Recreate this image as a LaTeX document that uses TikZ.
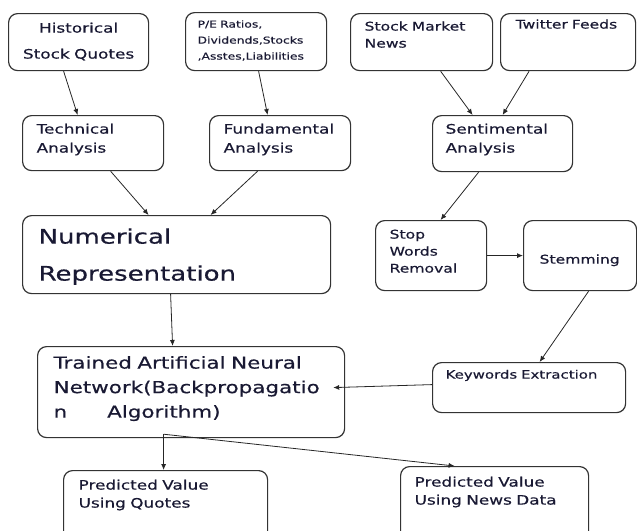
\documentclass[tikz,border=0pt]{standalone}
\usepackage{fontspec}
\setmainfont{DejaVu Sans}[FakeStretch=1.3,FakeBold=0.5]
\usetikzlibrary{arrows.meta}
\definecolor{inkc}{rgb}{0.1,0.1,0.2}
\definecolor{linec}{rgb}{0.2,0.2,0.2}
\tikzset{
  box/.style={draw=linec, line width=1.2pt, rounded corners=9pt, anchor=north west,
    inner ysep=0pt, align=left, text=inkc},
  flow/.style={-{Latex[length=6pt,width=5pt]}, line width=0.8pt, draw=black!85}
}
\begin{document}
\begin{tikzpicture}[x=1pt,y=-1pt]
\useasboundingbox (0,0) rectangle (637,530);
\node [box, align=center, inner xsep=8pt, text width=124pt, text height=19pt, text depth=38pt, font=\fontsize{13}{26}\selectfont] (hist) at (8,13) {Historical\\Stock Quotes};
\node [box, inner xsep=12pt, text width=117pt, text height=15pt, text depth=43pt, font=\fontsize{9.5}{16}\selectfont] (pe) at (185,12) {P/E Ratios,\\Dividends,Stocks\\,Asstes,Liabilities};
\node [box, inner xsep=14pt, text width=114pt, text height=17pt, text depth=40pt, font=\fontsize{12}{17}\selectfont] (smn) at (350,13) {Stock Market\\News};
\node [box, inner xsep=15pt, text width=105pt, text height=15pt, text depth=42pt, font=\fontsize{12}{17}\selectfont] (tw) at (500,13) {Twitter Feeds};
\node [box, inner xsep=14pt, text width=113pt, text height=18pt, text depth=37pt, font=\fontsize{13}{19}\selectfont] (tech) at (22,115) {Technical\\Analysis};
\node [box, inner xsep=14pt, text width=113pt, text height=18pt, text depth=37pt, font=\fontsize{13}{19}\selectfont] (fund) at (209,115) {Fundamental\\Analysis};
\node [box, inner xsep=13pt, text width=114pt, text height=18pt, text depth=38pt, font=\fontsize{13}{19}\selectfont] (sent) at (432,115) {Sentimental\\Analysis};
\node [box, inner xsep=16pt, text width=276pt, text height=28pt, text depth=50pt, font=\fontsize{20}{37}\selectfont] (num) at (22,215) {Numerical\\Representation};
\node [box, inner xsep=14pt, text width=83pt, text height=18pt, text depth=52pt, font=\fontsize{12}{17}\selectfont] (stop) at (375,220) {Stop\\Words\\Removal};
\node [box, inner xsep=16pt, text width=81pt, text height=43pt, text depth=27pt, font=\fontsize{12}{17}\selectfont] (stem) at (523,220) {Stemming};
\node [box, inner xsep=16pt, text width=275pt, text height=22pt, text depth=69pt, font=\fontsize{16.5}{24.5}\selectfont] (ann) at (37,346) {Trained Artificial Neural\\Network(Backpropagatio\\n\hspace*{40pt}Algorithm)};
\node [box, inner xsep=13pt, text width=167pt, text height=16pt, text depth=34pt, font=\fontsize{11.5}{17}\selectfont] (kw) at (432,362) {Keywords Extraction};
\node [box, inner xsep=15pt, text width=174pt, text height=19pt, text depth=51pt, font=\fontsize{13}{18}\selectfont] (pq) at (63,470) {Predicted Value\\Using Quotes};
\node [box, inner xsep=14pt, text width=160pt, text height=20pt, text depth=54pt, font=\fontsize{13}{18}\selectfont] (pn) at (400,466) {Predicted Value\\Using News Data};

\coordinate (split) at ([xshift=-27.5pt,yshift=4pt]ann.south);
\draw [flow] ([xshift=-15pt]hist.south) -- ([xshift=-15.5pt]tech.north);
\draw [flow] ([xshift=2.5pt]pe.south) -- ([xshift=-12.5pt]fund.north);
\draw [flow] ([xshift=19pt]smn.south) -- ([xshift=-30pt]sent.north);
\draw [flow] ([xshift=-39pt]tw.south) -- (sent.north);
\draw [flow] ([xshift=17.5pt]tech.south) -- ([xshift=-28pt]num.north);
\draw [flow] ([xshift=-22.5pt]fund.south) -- ([xshift=34pt]num.north);
\draw [flow] ([xshift=-6pt]num.south) -- ([xshift=-18.5pt]ann.north);
\draw [flow] ([xshift=-24pt]sent.south) -- ([xshift=9.5pt]stop.north);
\draw [flow] (stop.east) -- (stem.west);
\draw [flow] ([xshift=8.5pt]stem.south) -- ([xshift=10.5pt]kw.north);
\draw [flow] ([yshift=3pt]kw.west) -- ([xshift=-12pt,yshift=4.5pt]ann.east);
\draw [flow] (split) -- (split |- pq.north);
\draw [flow] (split) -- ([xshift=-40pt]pn.north);
\end{tikzpicture}
\end{document}
